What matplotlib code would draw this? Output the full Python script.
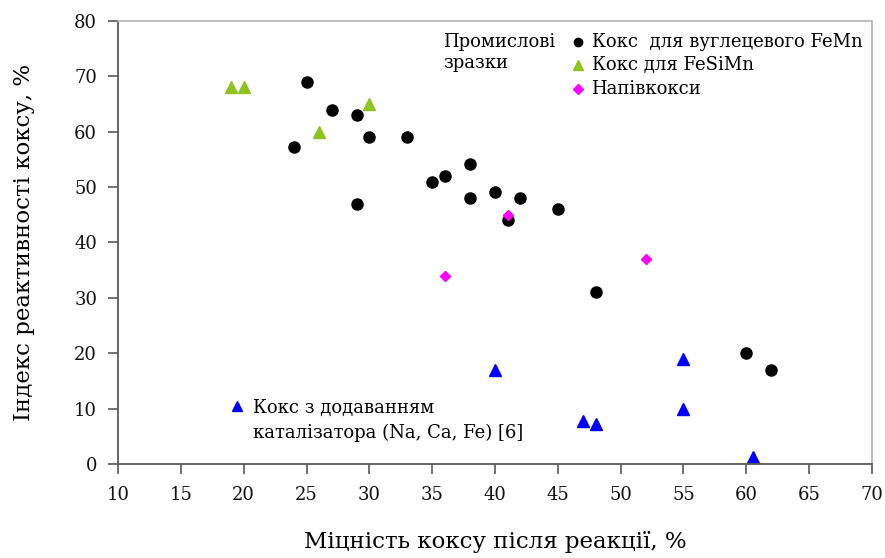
import numpy as np
import matplotlib
matplotlib.use("Agg")
import matplotlib.pyplot as plt
import matplotlib.ticker as ticker

plt.rcParams['font.family'] = ['DejaVu Serif']

# Кокс для вуглецевого FeMn
femn_x = [25, 27, 29, 30, 33, 24, 38, 35, 36, 38, 40, 42, 29, 45, 41, 48, 60, 62]
femn_y = [69, 64, 63, 59, 59, 57.2, 54.2, 51, 52, 48, 49.2, 48, 47, 46, 44, 31, 20, 17]
# Кокс для FeSiMn
fesimn_x = [19, 20, 30, 26]
fesimn_y = [68, 68, 65, 60]
# Напівкокси
semi_x = [41, 36, 52]
semi_y = [45, 34, 37]
# Кокс з додаванням каталізатора
cat_x = [40, 55, 55, 47, 48, 60.5]
cat_y = [17, 19, 10, 7.8, 7.2, 1.2]

fig = plt.figure(figsize=(8.85, 5.58), dpi=100)
ax = fig.add_axes([118/885, 1-464/558, 754/885, 443/558])

ax.plot(femn_x, femn_y, 'o', color='black', ms=8, ls='none', clip_on=False)
ax.plot(fesimn_x, fesimn_y, '^', color='#8fc31f', ms=8.5, ls='none', clip_on=False)
ax.plot(semi_x, semi_y, 'D', color='#ff00ff', ms=5.5, ls='none', clip_on=False)
ax.plot(cat_x, cat_y, '^', color='#0000ff', ms=8.5, ls='none', clip_on=False)

ax.set_xlim(10, 70)
ax.set_ylim(0, 80)
ax.xaxis.set_major_locator(ticker.MultipleLocator(5))
ax.yaxis.set_major_locator(ticker.MultipleLocator(10))
ax.tick_params(direction='out', length=7, width=1.2, color='#595959',
               labelsize=13, labelcolor='#111111')
ax.tick_params(axis='y', pad=8)
ax.tick_params(axis='x', pad=9)
for s in ['left', 'bottom']:
    ax.spines[s].set_color('#595959')
    ax.spines[s].set_linewidth(1.3)
for s in ['top', 'right']:
    ax.spines[s].set_color('#b8b8b8')
    ax.spines[s].set_linewidth(1.3)

ax.set_xlabel("Міцність коксу після реакції, %", fontsize=16.5, labelpad=19)
ax.set_ylabel("Індекс реактивності коксу, %", fontsize=16.5, labelpad=28)

# legend drawn by hand, as in the original
fs = 13
ax.text(0.431, 0.953, "Промислові", transform=ax.transAxes, fontsize=fs, va='center')
ax.text(0.431, 0.905, "зразки", transform=ax.transAxes, fontsize=fs, va='center')
rows = [("Кокс  для вуглецевого FeMn", 'o', 'black', 6),
        ("Кокс для FeSiMn", '^', '#8fc31f', 7),
        ("Напівкокси", 'D', '#ff00ff', 5)]
for i, (lab, m, c, ms) in enumerate(rows):
    y = [0.953, 0.900, 0.847][i]
    ax.plot([0.610], [y], m, color=c, ms=ms, transform=ax.transAxes, clip_on=False)
    ax.text(0.628, y, lab, transform=ax.transAxes, fontsize=fs, va='center', ha='left')

ax.plot([0.158], [0.131], '^', color='#0000ff', ms=7, transform=ax.transAxes)
ax.text(0.179, 0.127, "Кокс з додаванням", transform=ax.transAxes, fontsize=fs, va='center')
ax.text(0.179, 0.070, "каталізатора (Na, Ca, Fe) [6]", transform=ax.transAxes, fontsize=fs, va='center')

fig.savefig("out.png", dpi=100)
